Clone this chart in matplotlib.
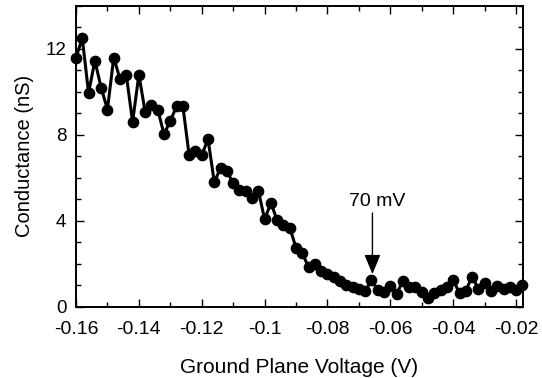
import numpy as np
import matplotlib
matplotlib.use('Agg')
import matplotlib.pyplot as plt
from matplotlib.ticker import MultipleLocator, FormatStrFormatter

plt.rcParams['font.family'] = ['Liberation Sans', 'DejaVu Sans']
plt.rcParams['axes.unicode_minus'] = False

# ground plane voltage sweep (V)
volts = [-0.160, -0.158, -0.156, -0.154, -0.152, -0.150, -0.148, -0.146, -0.144, -0.142,
         -0.140, -0.138, -0.136, -0.134, -0.132, -0.130, -0.128, -0.126, -0.124, -0.122,
         -0.120, -0.118, -0.116, -0.114, -0.112, -0.110, -0.108, -0.106, -0.104, -0.102,
         -0.100, -0.098, -0.096, -0.094, -0.092, -0.090, -0.088, -0.086, -0.084, -0.082,
         -0.080, -0.078, -0.076, -0.074, -0.072, -0.070, -0.068, -0.066, -0.064, -0.062,
         -0.060, -0.058, -0.056, -0.054, -0.052, -0.050, -0.048, -0.046, -0.044, -0.042,
         -0.040, -0.038, -0.036, -0.034, -0.032, -0.030, -0.028, -0.026, -0.024, -0.022,
         -0.020, -0.018]
# conductance (nS)
cond = [11.6, 12.5, 9.95, 11.45, 10.2, 9.18, 11.6, 10.6, 10.8, 8.6,
        10.8, 9.07, 9.4, 9.18, 8.03, 8.65, 9.33, 9.33, 7.05, 7.25,
        7.06, 7.8, 5.79, 6.47, 6.31, 5.75, 5.44, 5.38, 5.07, 5.41,
        4.07, 4.83, 4.02, 3.82, 3.68, 2.74, 2.49, 1.83, 2.0, 1.68,
        1.52, 1.37, 1.18, 1.03, 0.93, 0.83, 0.72, 1.25, 0.76, 0.67,
        0.98, 0.6, 1.2, 0.9, 0.93, 0.67, 0.42, 0.62, 0.78, 0.93,
        1.25, 0.62, 0.75, 1.4, 0.83, 1.09, 0.71, 0.98, 0.83, 0.93,
        0.78, 1.03]

xticks = [-0.16, -0.14, -0.12, -0.1, -0.08, -0.06, -0.04, -0.02]
yticks = [0, 4, 8, 12]

# arrow marking the 70 mV feature
arrow_x = -0.0657
arrow_tip, arrow_tail = 1.52, 4.36
label_xy = (-0.0643, 4.9)

fig = plt.figure(figsize=(5.42, 3.78), dpi=100)
ax = fig.add_axes([76/542, 71.3/378, 447/542, 300.7/378])

ax.plot(volts, cond, color='black', lw=2.2, marker='o', ms=7.4, clip_on=False, zorder=3)

ax.annotate('', xy=(arrow_x, arrow_tip), xytext=(arrow_x, arrow_tail),
            arrowprops=dict(arrowstyle='-|>,head_length=1.2,head_width=0.5',
                            color='black', lw=1.0, mutation_scale=10,
                            shrinkA=0, shrinkB=0))
ax.text(label_xy[0], label_xy[1], '70 mV', ha='center', va='center', fontsize=14)

ax.set_xlim(-0.16, -0.0178)
ax.set_ylim(0, 14)
ax.set_xticks(xticks)
ax.set_yticks(yticks)
ax.xaxis.set_minor_locator(MultipleLocator(0.01))
ax.yaxis.set_minor_locator(MultipleLocator(1))
ax.xaxis.set_major_formatter(FormatStrFormatter('%g'))
ax.tick_params(which='both', direction='in', top=True, right=True, width=1.0)
ax.tick_params(which='major', length=5.5)
ax.tick_params(which='minor', length=3.5)
ax.tick_params(axis='x', which='major', labelsize=14, pad=10)
ax.tick_params(axis='y', which='major', labelsize=13.5, pad=7)
for s in ax.spines.values():
    s.set_linewidth(1.4)

ax.set_xlabel('Ground Plane Voltage (V)', fontsize=15, labelpad=15)
ax.set_ylabel('Conductance (nS)', fontsize=14.5, labelpad=8)

fig.savefig('out.png', dpi=100)
